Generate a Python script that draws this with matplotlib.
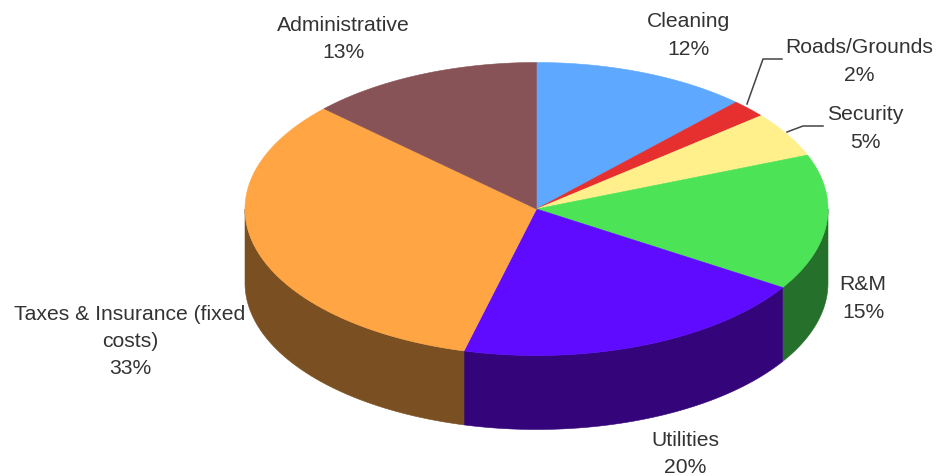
import numpy as np
import matplotlib
matplotlib.use("Agg")
import matplotlib.pyplot as plt
from matplotlib.patches import Polygon

plt.rcParams["font.family"] = ["Liberation Sans", "DejaVu Sans"]

# Annual operating cost shares
categories = ["Cleaning", "Roads/Grounds", "Security", "R&M", "Utilities",
              "Taxes & Insurance (fixed\ncosts)", "Administrative"]
shares = [12, 2, 5, 15, 20, 33, 13]
top_colors = ["#5FA8FF", "#E5302F", "#FFF08C", "#4CE356", "#5E0BFF", "#FFA544", "#875357"]
side_colors = ["#3A68A0", "#8F1E1E", "#A09658", "#25702B", "#33047A", "#7A5022", "#54343A"]

# Disc geometry in figure pixels
CX, CY, RX, RY, DEPTH = 536.5, 210, 291.5, 146.5, 74

fig = plt.figure(figsize=(9.38, 4.77), dpi=100)
ax = fig.add_axes([0, 0, 1, 1])
ax.set_xlim(0, 938)
ax.set_ylim(477, 0)
ax.axis("off")


def rim(a0, a1, n=200):
    """Points on the top ellipse, angles clockwise from twelve o'clock."""
    t = np.linspace(a0, a1, n)
    return CX + RX * np.sin(t), CY - RY * np.cos(t)


edges = 2 * np.pi * np.concatenate([[0], np.cumsum(shares)]) / sum(shares)

# Side walls: only the part of each slice facing the viewer (pi/2 .. 3pi/2)
for a0, a1, col in zip(edges[:-1], edges[1:], side_colors):
    lo, hi = max(a0, np.pi / 2), min(a1, 3 * np.pi / 2)
    if lo >= hi:
        continue
    x, y = rim(lo, hi)
    pts = np.r_[np.c_[x, y], np.c_[x, y + DEPTH][::-1]]
    ax.add_patch(Polygon(pts, closed=True, fc=col, ec=col, lw=0.4, zorder=1))

# Top faces
for a0, a1, col in zip(edges[:-1], edges[1:], top_colors):
    x, y = rim(a0, a1)
    pts = np.r_[[[CX, CY]], np.c_[x, y]]
    ax.add_patch(Polygon(pts, closed=True, fc=col, ec=col, lw=0.4, zorder=2))

# Labels
label_pos = [(688.5, 35.5), (859, 61.5), (865, 128.5), (863, 298.5), (685, 454), (130, 341.5), (343, 39)]
for name, share, (lx, ly) in zip(categories, shares, label_pos):
    ax.text(lx, ly, f"{name}\n{share}%", ha="center", va="center", fontsize=15.2,
            color="#333333", linespacing=1.54, zorder=4)

# Leader lines for the two narrow slices
ax.plot([747, 763, 782], [105, 60, 60], color="#444444", lw=1.1, zorder=3)
ax.plot([787, 803, 823], [133, 127, 127], color="#444444", lw=1.1, zorder=3)

fig.savefig("out.png", dpi=100)
